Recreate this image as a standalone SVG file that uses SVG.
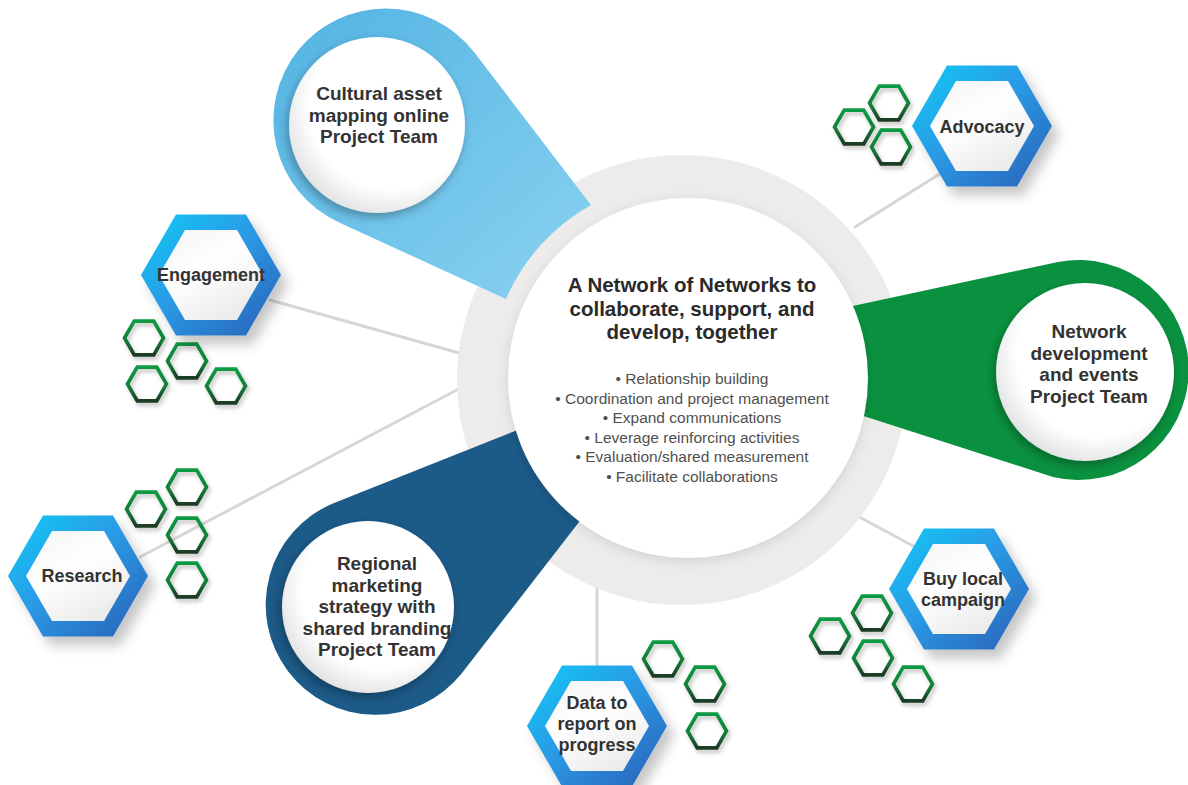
<svg xmlns="http://www.w3.org/2000/svg" xmlns:xlink="http://www.w3.org/1999/xlink" width="1188" height="785" viewBox="0 0 1188 785">
<style>
  .lbl { font-family: "Liberation Sans", Arial, sans-serif; font-weight: 700; fill: #333333; text-anchor: middle; }
  .team { font-size: 19px; }
  .hx { font-size: 18px; }
  .title { font-size: 20.5px; fill: #2a2a2a; }
  .bul { font-family: "Liberation Sans", Arial, sans-serif; font-size: 15.5px; font-weight: 400; fill: #505050; text-anchor: middle; }
  .conn { stroke: #d6d6d6; stroke-width: 3; fill: none; stroke-linecap: round; }
  .small { fill: none; stroke: url(#gSmall); stroke-width: 3.6; stroke-linejoin: miter; filter: url(#shSmall); }
</style>
<defs>
  <linearGradient id="gHex" x1="0" y1="0" x2="1" y2="1">
    <stop offset="0" stop-color="#10cbf6"/>
    <stop offset="0.45" stop-color="#2a9be6"/>
    <stop offset="1" stop-color="#2c5fb5"/>
  </linearGradient>
  <linearGradient id="gInner" x1="0" y1="0" x2="0.6" y2="1">
    <stop offset="0" stop-color="#f4f4f4"/>
    <stop offset="0.5" stop-color="#ffffff"/>
    <stop offset="1" stop-color="#ececec"/>
  </linearGradient>
  <linearGradient id="gSmall" x1="0" y1="0" x2="0" y2="1">
    <stop offset="0" stop-color="#0e9a44"/>
    <stop offset="0.6" stop-color="#137a38"/>
    <stop offset="1" stop-color="#1d3a24"/>
  </linearGradient>
  <linearGradient id="gLight" x1="0" y1="0" x2="1" y2="1">
    <stop offset="0" stop-color="#52b3e2"/>
    <stop offset="1" stop-color="#8ad2f1"/>
  </linearGradient>
  <radialGradient id="gWhite" cx="0.58" cy="0.4" r="0.62">
    <stop offset="0.75" stop-color="#ffffff"/>
    <stop offset="1" stop-color="#e4e4e4"/>
  </radialGradient>
  <filter id="shHex" x="-30%" y="-30%" width="170%" height="170%">
    <feDropShadow dx="7" dy="9" stdDeviation="6" flood-color="#000" flood-opacity="0.22"/>
  </filter>
  <filter id="shSmall" x="-40%" y="-40%" width="190%" height="190%">
    <feDropShadow dx="2" dy="3" stdDeviation="2" flood-color="#000" flood-opacity="0.25"/>
  </filter>
  <filter id="shCirc" x="-30%" y="-30%" width="160%" height="160%">
    <feDropShadow dx="-2" dy="4" stdDeviation="5" flood-color="#000" flood-opacity="0.3"/>
  </filter>
  <filter id="shCenter" x="-20%" y="-20%" width="140%" height="140%">
    <feDropShadow dx="0" dy="3" stdDeviation="6" flood-color="#000" flood-opacity="0.12"/>
  </filter>
  <polygon id="hexOuter" points="-70,0 -35,-60.6 35,-60.6 70,0 35,60.6 -35,60.6" fill="url(#gHex)"/>
  <polygon id="hexInner" points="-52,0 -26,-45 26,-45 52,0 26,45 -26,45" fill="url(#gInner)"/>
  <polygon id="hexSmall" points="-19.5,0 -9.75,-16.9 9.75,-16.9 19.5,0 9.75,16.9 -9.75,16.9"/>
</defs>

<rect width="1188" height="785" fill="#ffffff"/>

<g id="connectors">
  <line class="conn" x1="270" y1="300" x2="470" y2="356"/>
  <line class="conn" x1="140" y1="557" x2="470" y2="383"/>
  <line class="conn" x1="855" y1="227" x2="962" y2="160"/>
  <line class="conn" x1="850" y1="512" x2="930" y2="555"/>
  <line class="conn" x1="597" y1="570" x2="597" y2="670"/>
</g>

<g id="hub-ring">
  <circle cx="682" cy="380" r="225" fill="#eeecea"/>
</g>

<g id="team-cultural">
  <path d="M 474,52 L 591,205 A 198 198 0 0 0 506,299 L 338,222 A 112 112 0 1 1 474,52 Z" fill="url(#gLight)"/>
  <circle cx="377" cy="125" r="88" fill="url(#gWhite)" filter="url(#shCirc)"/>
  <text class="lbl team" x="379" y="100">Cultural asset<tspan x="379" dy="21.5">mapping online</tspan><tspan x="379" dy="21.5">Project Team</tspan></text>
</g>

<g id="team-network">
  <path d="M 820,313 L 1058,262 A 110 110 0 1 1 1053,477 L 820,402 Z" fill="#0a913f"/>
  <circle cx="1085" cy="372" r="89" fill="url(#gWhite)" filter="url(#shCirc)"/>
  <text class="lbl team" x="1089" y="338">Network<tspan x="1089" dy="21.7">development</tspan><tspan x="1089" dy="21.7">and events</tspan><tspan x="1089" dy="21.7">Project Team</tspan></text>
</g>

<g id="team-regional">
  <path d="M 334,503 L 560,413 L 610,482 L 462,673 A 110 110 0 1 1 334,503 Z" fill="#1c5a88"/>
  <circle cx="368" cy="607" r="86" fill="url(#gWhite)" filter="url(#shCirc)"/>
  <text class="lbl team" x="377" y="570">Regional<tspan x="377" dy="21.5">marketing</tspan><tspan x="377" dy="21.5">strategy with</tspan><tspan x="377" dy="21.5">shared branding</tspan><tspan x="377" dy="21.5">Project Team</tspan></text>
</g>

<g id="hub">
  <circle cx="688" cy="378" r="180" fill="#ffffff" filter="url(#shCenter)"/>
  <text class="lbl title" x="692" y="292">A Network of Networks to<tspan x="692" dy="23.5">collaborate, support, and</tspan><tspan x="692" dy="23.5">develop, together</tspan></text>
  <text class="bul" x="692" y="384">• Relationship building<tspan x="692" dy="19.5">• Coordination and project management</tspan><tspan x="692" dy="19.5">• Expand communications</tspan><tspan x="692" dy="19.5">• Leverage reinforcing activities</tspan><tspan x="692" dy="19.5">• Evaluation/shared measurement</tspan><tspan x="692" dy="19.5">• Facilitate collaborations</tspan></text>
</g>

<g id="advocacy">
  <use href="#hexSmall" class="small" x="889" y="103"/>
  <use href="#hexSmall" class="small" x="854" y="127"/>
  <use href="#hexSmall" class="small" x="891" y="147"/>
  <use href="#hexOuter" x="982" y="126" filter="url(#shHex)"/>
  <use href="#hexInner" x="982" y="126"/>
  <text class="lbl hx" x="982" y="133">Advocacy</text>
</g>

<g id="engagement">
  <use href="#hexSmall" class="small" x="144" y="338"/>
  <use href="#hexSmall" class="small" x="187" y="361"/>
  <use href="#hexSmall" class="small" x="147" y="384"/>
  <use href="#hexSmall" class="small" x="226" y="386"/>
  <use href="#hexOuter" x="211" y="275" filter="url(#shHex)"/>
  <use href="#hexInner" x="211" y="275"/>
  <text class="lbl hx" x="211" y="281">Engagement</text>
</g>

<g id="research">
  <use href="#hexSmall" class="small" x="146" y="509"/>
  <use href="#hexSmall" class="small" x="187" y="487"/>
  <use href="#hexSmall" class="small" x="187" y="535"/>
  <use href="#hexSmall" class="small" x="187" y="580"/>
  <use href="#hexOuter" x="78" y="576" filter="url(#shHex)"/>
  <use href="#hexInner" x="78" y="576"/>
  <text class="lbl hx" x="82" y="582">Research</text>
</g>

<g id="data">
  <use href="#hexSmall" class="small" x="663" y="659"/>
  <use href="#hexSmall" class="small" x="705" y="684"/>
  <use href="#hexSmall" class="small" x="707" y="731"/>
  <use href="#hexOuter" x="597" y="726" filter="url(#shHex)"/>
  <use href="#hexInner" x="597" y="726"/>
  <text class="lbl hx" x="597" y="709">Data to<tspan x="597" dy="21">report on</tspan><tspan x="597" dy="21">progress</tspan></text>
</g>

<g id="buy-local">
  <use href="#hexSmall" class="small" x="872" y="613"/>
  <use href="#hexSmall" class="small" x="830" y="636"/>
  <use href="#hexSmall" class="small" x="873" y="658"/>
  <use href="#hexSmall" class="small" x="913" y="684"/>
  <use href="#hexOuter" x="959" y="589" filter="url(#shHex)"/>
  <use href="#hexInner" x="959" y="589"/>
  <text class="lbl hx" x="963" y="585">Buy local<tspan x="963" dy="20.5">campaign</tspan></text>
</g>
</svg>
